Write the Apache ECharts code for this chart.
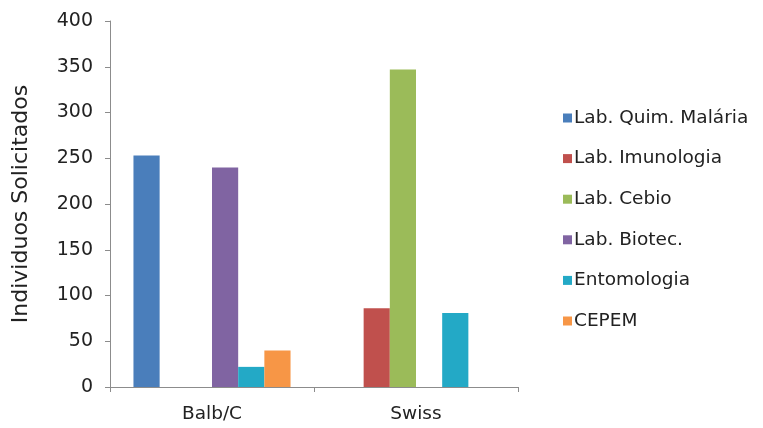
<!DOCTYPE html>
<html>
<head>
<meta charset="utf-8">
<script src="https://cdn.jsdelivr.net/npm/echarts@6/dist/echarts.min.js"></script>
<style>
  html, body { margin: 0; padding: 0; background: #fff; }
  #chart { width: 763px; height: 428px; }
</style>
</head>
<body>
<div id="chart"></div>
<script>
// Animal requests per strain, by laboratory
const categories = ['Balb/C', 'Swiss'];
const seriesNames = ['Lab. Quim. Malária', 'Lab. Imunologia', 'Lab. Cebio', 'Lab. Biotec.', 'Entomologia', 'CEPEM'];
const quimMalaria = [253, 0];
const imunologia = [0, 86];
const cebio = [0, 347];
const biotec = [240, 0];
const entomologia = [22, 81];
const cepem = [40, 0];
const colors = ['#4a7ebb', '#c0504d', '#9bbb59', '#8064a2', '#23a9c6', '#f79646'];

const values = [quimMalaria, imunologia, cebio, biotec, entomologia, cepem];
const font = '"DejaVu Sans", sans-serif';
const textColor = '#222';

const chart = echarts.init(document.getElementById('chart'));
chart.setOption({
  animation: false,
  color: colors,
  grid: { left: 110, top: 21, width: 408, height: 366 },
  legend: {
    orient: 'vertical',
    left: 558,
    top: 103,
    itemWidth: 9,
    itemHeight: 9,
    itemGap: 20.6,
    icon: 'rect',
    textStyle: { fontFamily: font, fontSize: 18.5, lineHeight: 20, color: textColor, padding: [0, 0, 0, -3] },
    data: seriesNames
  },
  xAxis: {
    type: 'category',
    data: categories,
    axisLine: { lineStyle: { color: '#8c8c8c', width: 1 } },
    axisTick: { show: true, length: 5, lineStyle: { color: '#8c8c8c' } },
    axisLabel: { fontFamily: font, fontSize: 18.5, color: textColor, margin: 18 }
  },
  yAxis: {
    type: 'value',
    min: 0,
    max: 400,
    interval: 50,
    name: 'Individuos Solicitados',
    nameLocation: 'middle',
    nameGap: 78,
    nameTextStyle: { fontFamily: font, fontSize: 22, color: textColor },
    axisLine: { show: true, lineStyle: { color: '#8c8c8c', width: 1 } },
    axisTick: { show: true, length: 5, lineStyle: { color: '#8c8c8c' } },
    axisLabel: { fontFamily: font, fontSize: 19, color: textColor, margin: 17 },
    splitLine: { show: false }
  },
  series: seriesNames.map((name, i) => ({
    name: name,
    type: 'bar',
    data: values[i],
    barGap: '0%',
    barCategoryGap: '23%'
  }))
});
</script>
</body>
</html>
